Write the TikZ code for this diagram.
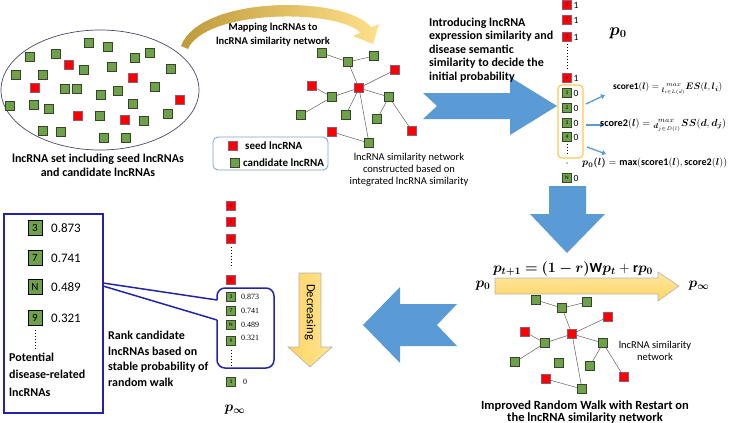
\documentclass[tikz,border=0pt]{standalone}
\usepackage{amsmath}
\usepackage{bm}
\usepackage{graphicx}
\usepackage{fontspec}
\setmainfont{Carlito}
\newfontfamily\smallserif{Liberation Serif}
\usetikzlibrary{arrows.meta}
\definecolor{sqgreen}{HTML}{6FA04A}
\definecolor{sqgreenb}{HTML}{34452A}
\definecolor{sqred}{HTML}{FF0000}
\definecolor{sqredb}{HTML}{8C5A7A}
\definecolor{arrblue}{HTML}{5B9BD5}
\definecolor{navy}{HTML}{2323A8}
\definecolor{goldA}{HTML}{BE9A3A}
\definecolor{goldB}{HTML}{FFE08A}
\definecolor{yel}{HTML}{FFD966}
\definecolor{ellcol}{HTML}{4A4A66}
\definecolor{legcol}{HTML}{7F9FBF}
\tikzset{
  sqbase/.style={minimum size=9pt, inner sep=0pt, line width=0.7pt},
  gsq/.style={sqbase, fill=sqgreen, draw=sqgreenb},
  rsq/.style={sqbase, fill=sqred, draw=sqredb},
  csq/.style={minimum size=8.5pt, inner sep=0pt, line width=0.6pt, font=\fontsize{5.5}{5.5}\selectfont},
  gcol/.style={csq, fill=sqgreen, draw=sqgreenb},
  rcol/.style={csq, fill=sqred, draw=sqredb, text=red!40!black},
  bsq/.style={minimum width=14pt, minimum height=15pt, inner sep=0pt, line width=0.9pt, fill=sqgreen, draw=black, font=\fontsize{11}{11}\selectfont},
  lnk/.style={draw=gray!75!black, line width=0.5pt},
  txt/.style={inner sep=0pt, align=center},
  btxt/.style={txt, font=\bfseries\fontsize{12}{14}\selectfont},
  ntxt/.style={txt, font=\fontsize{10.5}{12}\selectfont},
  smallarr/.style={draw=arrblue, line width=1.3pt, -{Triangle[length=4pt,width=5pt]}},
  colval/.style={inner sep=0pt, anchor=west, font=\fontsize{9.5}{9.5}\selectfont},
  frm/.style={inner sep=0pt, anchor=west, font=\fontsize{10}{12}\selectfont},
}
\begin{document}
\begin{tikzpicture}[x=1pt,y=-1pt]
\useasboundingbox (0,0) rectangle (729,423);

% ---------- ellipse with lncRNA set ----------
\draw[draw=ellcol, line width=0.7pt] (100,90) ellipse [x radius=99, y radius=60];
\foreach \x/\y/\s [count=\i] in {89/43/g, 108/47/g, 30/57/g, 56/54/g, 135/58/g, 150/53/g,
  69/65/r, 84/70/g, 112/67/g, 171/69/g, 16/75/g, 43/75/g, 133/78/r, 35/88/r, 65/89/g,
  77/89/g, 118/91/g, 155/87/g, 101/95/g, 180/100/r, 10/106/g, 34/105/g, 49/109/g,
  133/104/g, 78/116/r, 100/116/g, 125/120/r, 144/121/g, 168/114/g, 43/131/g, 61/132/g,
  104/138/g, 126/138/g}
  \node[\s sq] (e\i) at (\x,\y) {};
\node[btxt] (setlbl) at (98,165) {lncRNA set including seed lncRNAs\\and candidate lncRNAs};

% ---------- curved gold arrow ----------
\shade[left color=goldA, right color=goldB]
  (181,46) .. controls (200,-5) and (345,-5) .. (371.4,27.3) -- (379,24) -- (373,44) -- (353,36)
  -- (360.6,32.7) .. controls (335,8) and (205,10) .. (188,49) -- cycle;
\node[btxt, font=\bfseries\fontsize{10.5}{14}\selectfont] (maplbl) at (273,35) {Mapping lncRNAs to\\lncRNA similarity network};

% ---------- network 1 ----------
\foreach \n/\x/\y/\s in {G1/322/53/g, G2/348/62/g, G3/374/56/g, R1/395/70/r, R2/312/86/r,
  Rc/359/88/r, G4/332/97/g, G5/389/97/g, G6/301/115/g, G7/346/115/g, G8/377/119/g,
  R3/412/131/r, R4/332/132/r, G9/369/143/g}
  \node[\s sq] (a\n) at (\x,\y) {};
\foreach \u/\v in {G1/G2, G2/G3, G2/Rc, R1/Rc, Rc/G4, R2/G4, G4/G6, Rc/G7, Rc/G9, Rc/G5, G5/G8, G5/R3, R4/G9}
  \draw[lnk] (a\u) -- (a\v);
\node[ntxt] (net1lbl) at (409,170) {lncRNA similarity network\\constructed based on\\integrated lncRNA similarity};

% legend
\draw[draw=legcol, line width=0.8pt, rounded corners=5pt] (213,137) rectangle (328,170);
\node[rsq] (legr) at (233,146) {};
\node[gsq] (legg) at (235,163) {};
\node[btxt, anchor=west, font=\bfseries\fontsize{11}{12}\selectfont] (legrt) at (245,146) {seed lncRNA};
\node[btxt, anchor=west, font=\bfseries\fontsize{11}{12}\selectfont] (leggt) at (243,163) {candidate lncRNA};

% ---------- big blue arrow right ----------
\fill[arrblue] (423,93) -- (510,93) -- (510,77) -- (557,106) -- (510,135) -- (510,119) -- (423,119) -- (437,106) -- cycle;
\node[btxt, anchor=west, align=left, font=\bfseries\fontsize{12}{13.5}\selectfont] (introlbl) at (429,50)
  {Introducing lncRNA\\expression similarity and\\disease semantic\\similarity to decide the\\initial probability};

% ---------- p0 column ----------
\draw[draw=yel!80!orange, line width=1.2pt, rounded corners=4pt] (558,85) rectangle (583,158);
\foreach \n/\y/\t in {r1/5/1, r2/20/2, r3/37/3, rn/78/n}
  { \node[rcol] (p\n) at (567,\y) {\t}; \node[colval] at (573.5,\y) {1}; }
\foreach \n/\y/\t in {g1/93/1, g2/108/2, g3/123/3, g4/137/4, gN/178/N}
  { \node[gcol] (p\n) at (567,\y) {\t}; \node[colval] at (573.5,\y) {0}; }
\draw[dotted, line width=1pt] (567,44) -- (567,70);
\draw[dotted, line width=1pt] (567,144) -- (567,155);
\fill (567,163) circle (0.6);
\node[inner sep=0pt] (p0top) at (618,33) {\fontsize{16}{16}\selectfont$\bm{p_0}$};

\coordinate (s1a) at (586,104); \coordinate (s1b) at (605,95);
\coordinate (s2a) at (586,125); \coordinate (s2b) at (604,125);
\coordinate (s3a) at (587,147); \coordinate (s3b) at (606,154);
\draw[smallarr] (s1a) -- (s1b);
\draw[smallarr] (s2a) -- (s2b);
\draw[smallarr] (s3a) -- (s3b);
\node[frm] (sc1) at (613,89)
  {\resizebox{109pt}{!}{$\mathbf{score1}(\bm{l}) = {}_{\bm{l}_{i\in L(d)}}^{\;\;max}\bm{ES}(\bm{l},\bm{l_i})$}};
\node[frm] (sc2) at (600,125)
  {\resizebox{126pt}{!}{$\mathbf{score2}(\bm{l}) = {}_{\bm{d}_{j\in D(l)}}^{\;\;max}\bm{SS}(\bm{d},\bm{d_j})$}};
\node[frm] (sc3) at (582,163)
  {\resizebox{145pt}{!}{$\bm{p_0(l)} = \mathbf{max}(\mathbf{score1}(\bm{l}),\mathbf{score2}(\bm{l}))$}};

% ---------- big blue arrow down ----------
\fill[arrblue] (549,186) -- (586,186) -- (586,214) -- (605,214) -- (567,253) -- (530,214) -- (549,214) -- cycle;

% ---------- random walk ----------
\node[inner sep=0pt] (rwr) at (573,269) {\fontsize{14}{14}\selectfont$\bm{p_{t+1} = (1-r)}\mathbf{W}\bm{p_t} + \mathbf{r}\bm{p_0}$};
\shade[top color=yel!60, bottom color=yel!95!orange, draw=gray!60, line width=0.6pt]
  (495,278) -- (658,278) -- (658,272) -- (679,286) -- (658,301) -- (658,294) -- (495,294) -- cycle;
\node[inner sep=0pt] (rp0) at (483,286) {\fontsize{14}{14}\selectfont$\bm{p_0}$};
\node[inner sep=0pt] (rpinf) at (699,286) {\fontsize{14}{14}\selectfont$\bm{p_\infty}$};

\foreach \n/\x/\y/\s in {G1/536/300/g, G2/562/308/g, G3/587/302/g, R1/608/317/r, R2/525/332/r,
  Rc/572/334/r, G4/545/343/g, G5/603/343/g, G6/515/362/g, G7/559/363/g, G8/590/366/g,
  R3/624/377/r, R4/546/379/r, G9/582/389/g}
  \node[\s sq] (b\n) at (\x,\y) {};
\foreach \u/\v in {G1/G2, G2/G3, G2/Rc, R1/Rc, Rc/G4, R2/G4, G4/G6, Rc/G9, Rc/G5, G5/G8, G5/R3, R4/G9}
  \draw[lnk] (b\u) -- (b\v);
\node[ntxt] (net2lbl) at (655,351) {lncRNA similarity\\network};
\node[btxt, font=\bfseries\fontsize{12.5}{12}\selectfont] (rwrlbl) at (585,412) {Improved Random Walk with Restart on\\the lncRNA similarity network};

% ---------- big blue arrow left ----------
\fill[arrblue] (363,325) -- (400,287) -- (400,304) -- (457,304) -- (437,325) -- (457,346) -- (400,346) -- (400,363) -- cycle;

% ---------- decreasing arrow ----------
\shade[left color=yel!95!orange, right color=yel!70, draw=gray!60, line width=0.6pt]
  (299,273) -- (321,273) -- (321,347) -- (332,347) -- (310,367) -- (288,347) -- (299,347) -- cycle;
\node[inner sep=0pt, rotate=-90, font=\fontsize{12.5}{12.5}\selectfont] (declbl) at (310,312) {Decreasing};

% ---------- p infinity column ----------
\foreach \n/\y/\t in {r4/206/4, r1/222/1, rn/239/n, r6/280/6}
  \node[rcol] (q\n) at (231,\y) {\t};
\draw[dotted, line width=1pt] (231,247) -- (231,268);
\foreach \n/\y/\t in {g3/297/3, g7/311/7, gN/325/N, g9/341/9, g1/382/1}
  \node[gcol] (q\n) at (231,\y) {\t};
\foreach \y/\v in {297/0.873, 311/0.741, 325/0.489, 338/0.321}
  \node[inner sep=0pt, anchor=west, font=\smallserif\fontsize{8}{8}\selectfont] at (241,\y) {\v};
\node[inner sep=0pt, anchor=west, font=\smallserif\fontsize{8}{8}\selectfont] at (243,382) {0};
\draw[dotted, line width=1pt] (231,350) -- (231,368);
\node[inner sep=0pt] (qpinf) at (235,410) {\fontsize{14}{14}\selectfont$\bm{p_\infty}$};

% callout
\coordinate (cA) at (217,300); \coordinate (cB) at (217,320);
\coordinate (bxA) at (103,283); \coordinate (bxB) at (103,286);
\draw[navy, line width=1.5pt, rounded corners=8pt] (cA) -- (217,288) -- (274,288) -- (274,368) -- (217,368) -- (cB);
\draw[navy, line width=1.5pt] (bxA) -- (cA);
\draw[navy, line width=1.5pt] (bxB) -- (cB);

% ---------- left result box ----------
\draw[navy, line width=1.6pt] (4,214) rectangle (103,413);
\foreach \n/\y/\t/\v in {a/228/3/0.873, b/258/7/0.741, c/287/N/0.489, d/318/9/0.321}
  { \node[bsq] (res\n) at (35,\y) {\t};
    \node[inner sep=0pt, anchor=west, font=\fontsize{13}{13}\selectfont] at (51,\y) {\v}; }
\draw[dotted, line width=1pt] (35,330) -- (35,349);
\node[btxt, anchor=west, align=left, font=\bfseries\fontsize{12}{17.5}\selectfont] (potlbl) at (9,374.5) {Potential\\disease-related\\lncRNAs};
\node[btxt, anchor=west, align=left, font=\bfseries\fontsize{12}{15.5}\selectfont] (ranklbl) at (108,359) {Rank candidate\\lncRNAs based on\\stable probability of\\random walk};
\end{tikzpicture}
\end{document}
